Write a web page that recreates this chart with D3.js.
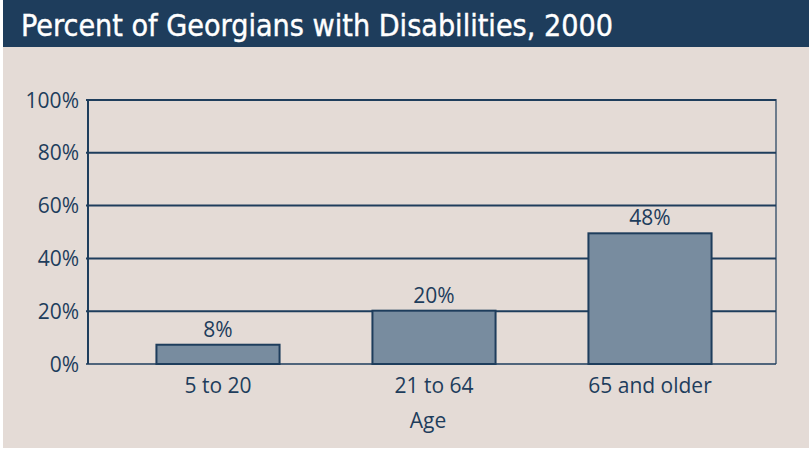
<!DOCTYPE html>
<html>
<head>
<meta charset="utf-8">
<script src="https://cdn.jsdelivr.net/npm/d3@7"></script>
<style>
  body { margin: 0; background: #fff; }
  svg { display: block; }
</style>
</head>
<body>
<div id="chart"></div>
<script>
// data
var categories = ["5 to 20", "21 to 64", "65 and older"];
var values = [7.3, 20.2, 49.5];          // bar heights as drawn
var valueLabels = ["8%", "20%", "48%"];  // printed labels
var yTicks = [0, 20, 40, 60, 80, 100];

var W = 809, H = 449;
var navy = "#1e3d5c";

var svg = d3.select("#chart").append("svg")
  .attr("width", W)
  .attr("height", H);

// background panel
svg.append("rect")
  .attr("x", 3).attr("y", 0)
  .attr("width", W - 3).attr("height", H - 1)
  .attr("fill", "#e4dbd6");

// title bar
svg.append("rect")
  .attr("x", 3).attr("y", 0)
  .attr("width", W - 3).attr("height", 47)
  .attr("fill", navy);

svg.append("text")
  .attr("x", 21)
  .attr("y", 36)
  .attr("fill", "#fff")
  .style("font-family", "'Liberation Sans Narrow', 'DejaVu Sans Condensed', 'Noto Sans', sans-serif")
  .style("font-size", "31px")
  .style("stroke", "#fff")
  .style("stroke-width", "0.4px")
  .attr("textLength", 592)
  .attr("lengthAdjust", "spacingAndGlyphs")
  .text("Percent of Georgians with Disabilities, 2000");

//plot box
var plot = { left: 88, right: 776, top: 100, bottom: 364 };

var y = d3.scaleLinear().domain([0, 100]).range([plot.bottom, plot.top]);
var x = d3.scaleBand().domain(categories).range([110, 758])
  .paddingInner(0.43).paddingOuter(0.215);

var font = "'Open Sans', sans-serif";
var fs = "21px";

// gridlines
svg.append("g").selectAll("line")
  .data(yTicks)
  .enter().append("line")
  .attr("x1", plot.left - 2).attr("x2", plot.right)
  .attr("y1", function(d) { return y(d); })
  .attr("y2", function(d) { return y(d); })
  .attr("stroke", navy)
  .attr("stroke-width", function(d) { return d === 0 ? 1.5 : 2; });

// frame sides
svg.append("line")
  .attr("x1", plot.left).attr("x2", plot.left)
  .attr("y1", plot.top - 1).attr("y2", plot.bottom)
  .attr("stroke", navy).attr("stroke-width", 2);
svg.append("line")
  .attr("x1", plot.right).attr("x2", plot.right)
  .attr("y1", plot.top - 1).attr("y2", plot.bottom)
  .attr("stroke", navy).attr("stroke-width", 1.2);

// y tick labels
svg.append("g").selectAll("text")
  .data(yTicks)
  .enter().append("text")
  .attr("x", 79)
  .attr("y", function(d) { return y(d) + 7.5; })
  .attr("text-anchor", "end")
  .attr("fill", navy)
  .style("font-family", font)
  .style("font-size", fs)
  .text(function(d) { return d + "%"; });

// bars
svg.append("g").selectAll("rect")
  .data(values)
  .enter().append("rect")
  .attr("x", function(d, i) { return x(categories[i]); })
  .attr("y", function(d) { return y(d); })
  .attr("width", x.bandwidth())
  .attr("height", function(d) { return y(0) - y(d); })
  .attr("fill", "#788c9f")
  .attr("stroke", navy)
  .attr("stroke-width", 2);

// value labels
svg.append("g").selectAll("text")
  .data(values)
  .enter().append("text")
  .attr("x", function(d, i) { return x(categories[i]) + x.bandwidth() / 2; })
  .attr("y", function(d) { return y(d) - 8; })
  .attr("text-anchor", "middle")
  .attr("fill", navy)
  .style("font-family", font)
  .style("font-size", fs)
  .text(function(d, i) { return valueLabels[i]; });

// category labels
svg.append("g").selectAll("text")
  .data(categories)
  .enter().append("text")
  .attr("x", function(d) { return x(d) + x.bandwidth() / 2; })
  .attr("y", 393)
  .attr("text-anchor", "middle")
  .attr("fill", navy)
  .style("font-family", font)
  .style("font-size", fs)
  .text(function(d) { return d; });

svg.append("text")
  .attr("x", 428)
  .attr("y", 428)
  .attr("text-anchor", "middle")
  .attr("fill", navy)
  .style("font-family", font)
  .style("font-size", fs)
  .text("Age");
</script>
</body>
</html>
